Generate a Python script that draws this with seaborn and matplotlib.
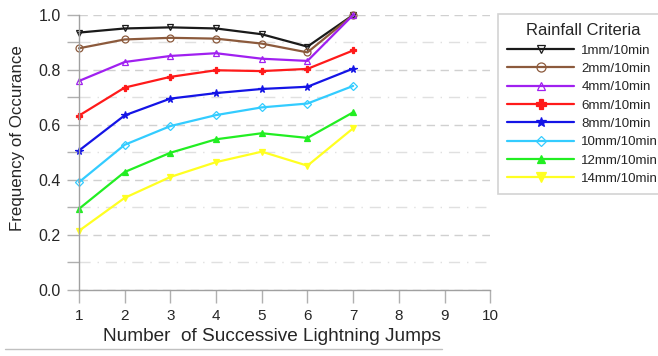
import matplotlib
matplotlib.use("Agg")
import matplotlib.pyplot as plt
from matplotlib.lines import Line2D
from matplotlib.ticker import MultipleLocator, FormatStrFormatter
import seaborn as sns
import pandas as pd

sns.set_style("white")
plt.rcParams['font.family'] = ['Liberation Sans', 'DejaVu Sans']

jumps = [1, 2, 3, 4, 5, 6, 7]
labels = ["1mm/10min", "2mm/10min", "4mm/10min", "6mm/10min",
          "8mm/10min", "10mm/10min", "12mm/10min", "14mm/10min"]
v1 = [0.936, 0.951, 0.955, 0.951, 0.930, 0.885, 1.0]
v2 = [0.879, 0.911, 0.917, 0.914, 0.896, 0.864, 1.0]
v4 = [0.760, 0.829, 0.851, 0.861, 0.841, 0.833, 1.0]
v6 = [0.634, 0.736, 0.775, 0.799, 0.796, 0.804, 0.871]
v8 = [0.507, 0.635, 0.696, 0.716, 0.731, 0.739, 0.805]
v10 = [0.392, 0.528, 0.596, 0.636, 0.664, 0.678, 0.742]
v12 = [0.295, 0.429, 0.499, 0.548, 0.570, 0.553, 0.646]
v14 = [0.215, 0.335, 0.411, 0.465, 0.503, 0.452, 0.588]
series = [v1, v2, v4, v6, v8, v10, v12, v14]

colors = ["#1a1a1a", "#8c5a3c", "#a020f0", "#ff1a1a", "#1414e6",
          "#33ccff", "#22ee22", "#ffff22"]
markers = ["v", "o", "^", "P", "*", "D", "^", "v"]
filled = [False, False, False, True, True, False, True, True]
msizes = [4.5, 5, 4.5, 5, 5.5, 3.8, 4.5, 5]

fig = plt.figure(figsize=(6.58, 3.56), dpi=100)
ax = fig.add_axes([0.120, 0.1854, 0.625, 0.7725])

handles = []
for vals, lab, c, m, f, ms in zip(series, labels, colors, markers, filled, msizes):
    df = pd.DataFrame({"x": jumps, "y": vals})
    mfc = c if f else "none"
    sns.lineplot(data=df, x="x", y="y", ax=ax, color=c, linewidth=1.6,
                 marker=m, markersize=ms, markerfacecolor=mfc,
                 markeredgecolor=c, markeredgewidth=0.9, legend=False,
                 clip_on=False)
    handles.append(Line2D([0], [0], color=c, lw=1.6, marker=m, markersize=ms + 1.5,
                          markerfacecolor=mfc, markeredgecolor=c,
                          markeredgewidth=0.9, label=lab))

ax.set_xlim(1, 10)
ax.set_ylim(0, 1.0)
ax.xaxis.set_major_locator(MultipleLocator(1))
ax.yaxis.set_major_locator(MultipleLocator(0.2))
ax.yaxis.set_minor_locator(MultipleLocator(0.1))
ax.yaxis.set_major_formatter(FormatStrFormatter("%.1f"))

ax.grid(True, which="major", axis="y", color="#d0d0d0", linestyle=(0, (6, 4)), linewidth=1.0)
ax.grid(True, which="minor", axis="y", color="#e0e0e0", linestyle=(0, (8, 5, 1, 5)), linewidth=1.0)
ax.grid(False, axis="x")
ax.set_axisbelow(True)

for s in ["top", "right"]:
    ax.spines[s].set_visible(False)
for s in ["left", "bottom"]:
    ax.spines[s].set_color("#a0a0a0")
    ax.spines[s].set_linewidth(1.0)

ax.tick_params(axis="x", which="major", direction="out", length=9, width=1.0,
               color="#b0b0b0", labelsize=11, pad=5, bottom=True)
ax.tick_params(axis="y", which="both", direction="out", length=9, width=1.0,
               color="#b0b0b0", labelsize=11.5, pad=4, left=True)

ax.set_xlabel("Number  of Successive Lightning Jumps", fontsize=13.7, labelpad=0)
ax.xaxis.set_label_coords(0.47, -0.138)
ax.set_ylabel("Frequency of Occurance", fontsize=12.2)
ax.yaxis.set_label_coords(-0.131, 0.553)

leg = fig.legend(handles=handles, loc="upper left", bbox_to_anchor=(0.757, 0.961),
                 title="Rainfall Criteria", title_fontsize=12, fontsize=9.6,
                 frameon=True, fancybox=False, edgecolor="#c8c8c8",
                 handlelength=5.0, handletextpad=0.55, labelspacing=0.45,
                 borderpad=0.7, borderaxespad=0)
leg.get_frame().set_linewidth(1.2)

fig.add_artist(Line2D([0.008, 0.672], [0.02, 0.02], transform=fig.transFigure,
                      color="#c0c0c0", lw=1.0))

fig.savefig("out.png", dpi=100)
